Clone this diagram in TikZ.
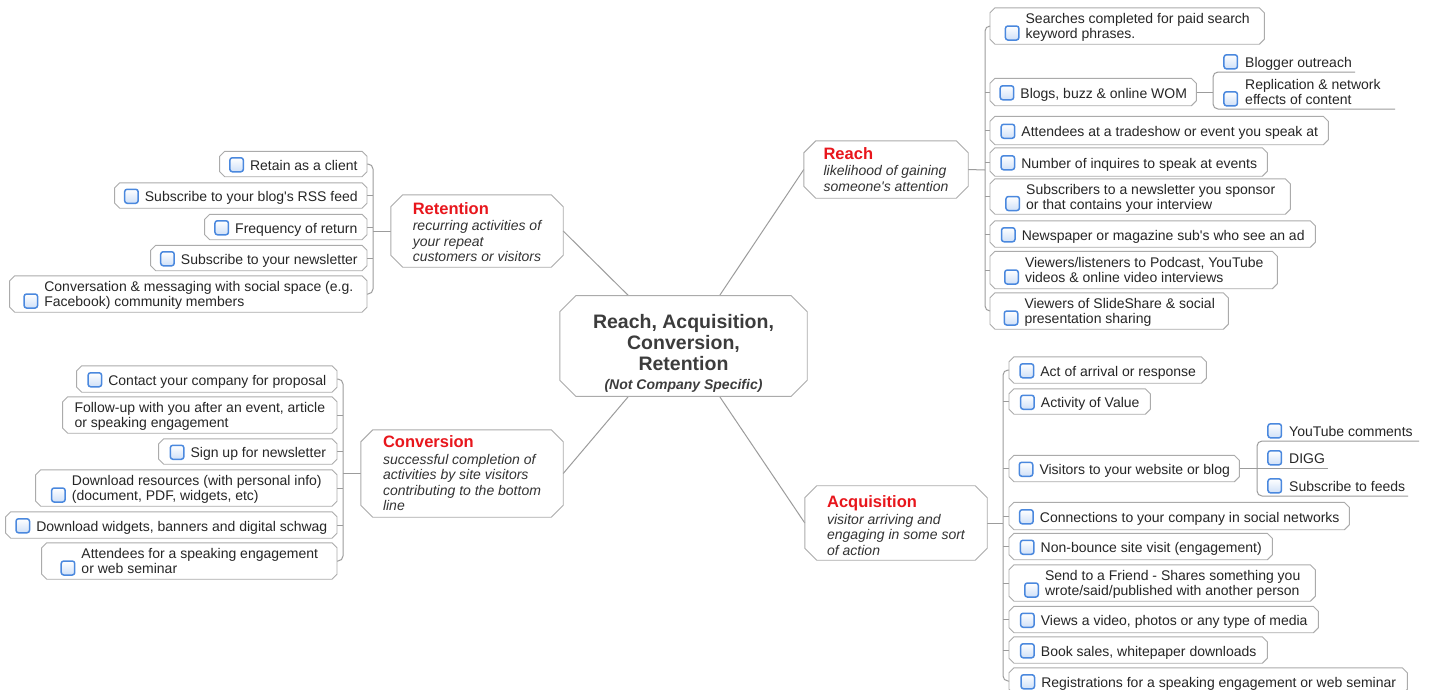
\documentclass[tikz,border=0pt]{standalone}
\usepackage{fontspec}
\setmainfont{Liberation Sans}
\usetikzlibrary{calc}
\definecolor{boxgray}{HTML}{ABABAB}
\definecolor{linegray}{HTML}{9C9C9C}
\definecolor{cbblue}{HTML}{4A88DE}
\definecolor{cbfill}{HTML}{CFE0F8}
\definecolor{titlered}{HTML}{E8161C}
\definecolor{txtgray}{HTML}{262626}
\definecolor{subgray}{HTML}{333333}
\definecolor{ctrgray}{HTML}{3C3C3C}
\newcommand{\cbx}{\tikz[baseline=0pt]\draw[draw=cbblue,top color=white,bottom color=cbfill,line width=1.5pt,rounded corners=2.5pt] (0pt,-1.5pt) rectangle (13.5pt,12.5pt);}
\newcommand{\leafc}[1]{\cbx\hspace{6pt}\begin{tabular}[b]{@{}l@{}}\rule{0pt}{14.5pt}#1\end{tabular}\rule{0pt}{17pt}}
\newcommand{\leafn}[1]{\begin{tabular}[b]{@{}l@{}}\rule{0pt}{14.5pt}#1\end{tabular}}
\newcommand{\ttl}[2]{{\rule{0pt}{#1pt}\color{titlered}\fontsize{16.5}{18}\selectfont\bfseries #2}}
\newcommand{\sbt}{\color{subgray}\itshape}
\newcommand{\chbox}[2]{\draw[boxline] ($(#1.north west)+(#2,0)$) -- ($(#1.north east)+(-#2,0)$) -- ($(#1.north east)+(0,#2)$) -- ($(#1.south east)+(0,-#2)$) -- ($(#1.south east)+(-#2,0)$) -- ($(#1.south west)+(#2,0)$) -- ($(#1.south west)+(0,-#2)$) -- ($(#1.north west)+(0,#2)$) -- cycle;}
\begin{document}
\begin{tikzpicture}[x=1pt,y=-1pt,
  conn/.style={draw=linegray,line width=1pt},
  boxline/.style={draw=boxgray,line width=0.9pt,line join=round},
  leaf/.style={rectangle,inner sep=0pt,font=\fontsize{14}{15}\selectfont,text=txtgray,minimum height=26},
  branch/.style={rectangle,inner sep=0pt,font=\fontsize{14}{15.5}\selectfont},
  subitem/.style={rectangle,anchor=south west,inner xsep=10pt,inner ysep=0pt,font=\fontsize{14}{15}\selectfont,text=txtgray}]
\fill[white] (0,0) rectangle (1429,689);
\useasboundingbox (0,0) rectangle (1429,689);

% centre
\node[rectangle,inner sep=0pt,minimum width=247,minimum height=98,text=ctrgray,font=\fontsize{19.5}{21}\selectfont\bfseries] (ctr) at (683.5,346)
 {\begin{tabular}{@{}c@{}}\rule{0pt}{33pt}Reach, Acquisition,\\Conversion,\\Retention\\[-2pt]{\fontsize{14}{15}\selectfont\itshape (Not Company Specific)}\end{tabular}};

% branches
\node[branch,minimum width=164,minimum height=57] (reach) at (886,169.5)
 {\begin{tabular}{@{}l@{}}\ttl{16}{Reach}\\[1pt]\sbt likelihood of gaining\\\sbt someone\textquotesingle s attention\end{tabular}};
\node[branch,minimum width=172,minimum height=72] (ret) at (477,231)
 {\begin{tabular}{@{}l@{}}\ttl{19}{Retention}\\[1pt]\sbt recurring activities of\\\sbt your repeat\\\sbt customers or visitors\end{tabular}};
\node[branch,minimum width=202,minimum height=87] (conv) at (462,473.5)
 {\begin{tabular}{@{}l@{}}\ttl{16}{Conversion}\\[1pt]\sbt successful completion of\\\sbt activities by site visitors\\\sbt contributing to the bottom\\\sbt line\end{tabular}};
\node[branch,minimum width=182,minimum height=68] (acq) at (896,523)
 {\begin{tabular}{@{}l@{}}\ttl{22}{Acquisition}\\[1pt]\sbt visitor arriving and\\\sbt engaging in some sort\\\sbt of action\end{tabular}};

% Reach leaves
\node[leaf,anchor=west,minimum width=274,minimum height=36] (r1) at (990,26) {\leafc{Searches completed for paid search\\keyword phrases.}};
\node[leaf,anchor=west,minimum width=206,minimum height=27] (r2) at (990,92) {\leafc{Blogs, buzz \& online WOM}};
\node[leaf,anchor=west,minimum width=338,minimum height=28] (r3) at (990,130.5) {\leafc{Attendees at a tradeshow or event you speak at}};
\node[leaf,anchor=west,minimum width=277,minimum height=28] (r4) at (990,162) {\leafc{Number of inquires to speak at events}};
\node[leaf,anchor=west,minimum width=300,minimum height=35] (r5) at (990,196.5) {\leafc{Subscribers to a newsletter you sponsor\\or that contains your interview}};
\node[leaf,anchor=west,minimum width=325,minimum height=26] (r6) at (990,234) {\leafc{Newspaper or magazine sub\textquotesingle s who see an ad}};
\node[leaf,anchor=west,minimum width=287,minimum height=37] (r7) at (990,270) {\leafc{Viewers/listeners to Podcast, YouTube\\videos \& online video interviews}};
\node[leaf,anchor=west,minimum width=238,minimum height=36] (r8) at (990,311) {\leafc{Viewers of SlideShare \& social\\presentation sharing}};

% Retention leaves
\node[leaf,anchor=east,minimum width=147,minimum height=25] (t1) at (367,164) {\leafc{Retain as a client}};
\node[leaf,anchor=east,minimum width=252,minimum height=25] (t2) at (367,195.5) {\leafc{Subscribe to your blog\textquotesingle s RSS feed}};
\node[leaf,anchor=east,minimum width=162,minimum height=25] (t3) at (367,227) {\leafc{Frequency of return}};
\node[leaf,anchor=east,minimum width=216,minimum height=25] (t4) at (367,258) {\leafc{Subscribe to your newsletter}};
\node[leaf,anchor=east,minimum width=357,minimum height=36] (t5) at (367,294) {\leafc{Conversation \& messaging with social space (e.g.\\Facebook) community members}};

% Conversion leaves
\node[leaf,anchor=east,minimum width=260,minimum height=26] (c1) at (337,379) {\leafc{Contact your company for proposal}};
\node[leaf,anchor=east,minimum width=274,minimum height=36] (c2) at (337,415) {\leafn{Follow-up with you after an event, article\\or speaking engagement}};
\node[leaf,anchor=east,minimum width=178,minimum height=25] (c3) at (337,451.5) {\leafc{Sign up for newsletter}};
\node[leaf,anchor=east,minimum width=301,minimum height=36] (c4) at (337,488) {\leafc{Download resources (with personal info)\\(document, PDF, widgets, etc)}};
\node[leaf,anchor=east,minimum width=331,minimum height=26] (c5) at (337,525) {\leafc{Download widgets, banners and digital schwag}};
\node[leaf,anchor=east,minimum width=295,minimum height=36] (c6) at (337,561) {\leafc{Attendees for a speaking engagement\\or web seminar}};

% Acquisition leaves
\node[leaf,anchor=west,minimum width=197,minimum height=26] (a1) at (1009,370) {\leafc{Act of arrival or response}};
\node[leaf,anchor=west,minimum width=141,minimum height=25] (a2) at (1009,401.5) {\leafc{Activity of Value}};
\node[leaf,anchor=west,minimum width=230,minimum height=26] (a3) at (1009,468.5) {\leafc{Visitors to your website or blog}};
\node[leaf,anchor=west,minimum width=340,minimum height=27] (a4) at (1009,516) {\leafc{Connections to your company in social networks}};
\node[leaf,anchor=west,minimum width=263,minimum height=26] (a5) at (1009,546.5) {\leafc{Non-bounce site visit (engagement)}};
\node[leaf,anchor=west,minimum width=306,minimum height=36] (a6) at (1009,583) {\leafc{Send to a Friend - Shares something you\\wrote/said/published with another person}};
\node[leaf,anchor=west,minimum width=309,minimum height=26] (a7) at (1009,619.5) {\leafc{Views a video, photos or any type of media}};
\node[leaf,anchor=west,minimum width=258,minimum height=26] (a8) at (1009,650) {\leafc{Book sales, whitepaper downloads}};
\node[leaf,anchor=west,minimum width=398,minimum height=26] (a9) at (1009,681) {\leafc{Registrations for a speaking engagement or web seminar}};

% sub items
\node[subitem] (bo) at (1213,72) {\cbx\hspace{7pt}\strut Blogger outreach};
\node[subitem] (rp) at (1213,109) {\cbx\hspace{7pt}\begin{tabular}[b]{@{}l@{}}Replication \& network\\effects of content\end{tabular}};
\node[subitem] (yt) at (1257,441) {\cbx\hspace{7pt}\strut YouTube comments};
\node[subitem] (dg) at (1257,468) {\cbx\hspace{7pt}\strut DIGG};
\node[subitem] (sf) at (1257,496) {\cbx\hspace{7pt}\strut Subscribe to feeds};

% spine coordinates
\coordinate (sR) at (985,170);
\coordinate (sT) at (373,231);
\coordinate (sC) at (343,473.5);
\coordinate (sA) at (1003,523);

% centre to branches
\draw[conn] ($(ctr.north)+(-55,0)$) -- (ret.east);
\draw[conn] ($(ctr.north)+(36,0)$) -- (reach.west);
\draw[conn] ($(ctr.south)+(-55,0)$) -- (conv.east);
\draw[conn] ($(ctr.south)+(36,0)$) -- (acq.west);

% branch to spines
\draw[conn] (reach.east) -- (sR);
\draw[conn] (ret.west) -- (sT);
\draw[conn] (conv.west) -- (sC);
\draw[conn] (acq.east) -- (sA);

\draw[conn,rounded corners=5] (r1.west) -| (sR) |- (r8.west);
\foreach \n in {r2,r3,r4,r5,r6,r7} \draw[conn] (\n.west) -- (\n.west -| sR);
\draw[conn,rounded corners=5] (t1.east) -| (sT) |- (t5.east);
\foreach \n in {t2,t3,t4} \draw[conn] (\n.east) -- (\n.east -| sT);
\draw[conn,rounded corners=5] (c1.east) -| (sC) |- (c6.east);
\foreach \n in {c2,c3,c4,c5} \draw[conn] (\n.east) -- (\n.east -| sC);
\draw[conn,rounded corners=5] (a1.west) -| (sA) |- (a9.west);
\foreach \n in {a2,a3,a4,a5,a6,a7,a8} \draw[conn] (\n.west) -- (\n.west -| sA);

% sub-item underlines
\draw[conn] (r2.east) -- (r2.east -| bo.south west);
\draw[conn,rounded corners=5] ($(bo.south west)+(142,0)$) -- (bo.south west) -- (rp.south west) -- ++(182,0);
\draw[conn] (a3.east) -- (a3.east -| dg.south west);
\draw[conn,rounded corners=5] ($(yt.south west)+(162,0)$) -- (yt.south west) -- (sf.south west) -- ++(151,0);
\draw[conn] (dg.south west) -- ++(71,0);

% outlines
\chbox{ctr}{16}
\foreach \n in {reach,ret,conv,acq} {\chbox{\n}{12}}
\foreach \n in {r1,r2,r3,r4,r5,r6,r7,r8,t1,t2,t3,t4,t5,c1,c2,c3,c4,c5,c6,a1,a2,a3,a4,a5,a6,a7,a8,a9} {\chbox{\n}{5}}
\end{tikzpicture}
\end{document}
